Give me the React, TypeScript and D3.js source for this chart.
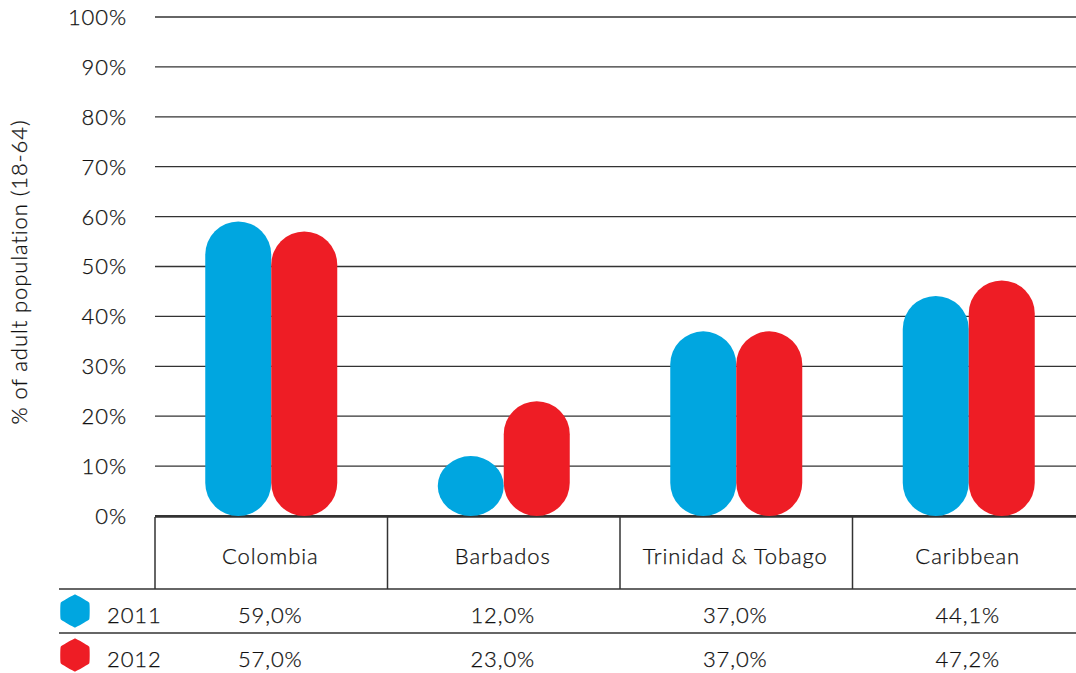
import React from "react";
import * as d3 from "d3";

const categories = ["Colombia", "Barbados", "Trinidad & Tobago", "Caribbean"];
const series = ["2011", "2012"];
const values2011 = [59.0, 12.0, 37.0, 44.1];
const values2012 = [57.0, 23.0, 37.0, 47.2];
const yTicks = [0, 10, 20, 30, 40, 50, 60, 70, 80, 90, 100];
const colors = ["#00a6e0", "#ee1d25"];

const W = 1076;
const H = 673;
const FONT = "Lato, 'Open Sans', sans-serif";
const FS = 22;
const LS = 0.9;

export default function App() {
  const y = d3.scaleLinear().domain([0, 100]).range([516, 17]);
  const x = d3.scaleBand().domain(categories).range([155, 1085]).paddingInner(0).paddingOuter(0);
  const barW = 66;
  const data = [values2011, values2012];
  const fmt = (v: number) => v.toFixed(1).replace(".", ",") + "%";
  const rowY = [611, 655];
  const hex = (cx: number, cy: number, r: number) => {
    const pts = d3.range(6).map((i) => {
      const a = (Math.PI / 3) * i - Math.PI / 2;
      return [cx + r * Math.cos(a), cy + r * Math.sin(a)] as [number, number];
    });
    return d3.line().curve(d3.curveCardinalClosed.tension(0.75))(pts) as string;
  };
  const tp = { fontFamily: FONT, fontWeight: 300, fontSize: FS, fill: "#111", letterSpacing: LS, stroke: "#111", strokeWidth: 0.25 };
  return (
    <svg width={W} height={H} style={{ display: "block", position: "absolute", left: 0, top: 0 }}>
      <rect width={W} height={H} fill="#fff" />
      {yTicks.map((t) => (
        <g key={t}>
          <line x1={155} x2={W} y1={y(t)} y2={y(t)} stroke="#333" strokeWidth={t === 0 ? 2 : 1.3} />
          <text x={127} y={y(t)} dy="0.36em" textAnchor="end" {...tp}>
            {t}%
          </text>
        </g>
      ))}
      <text transform={`translate(27,${272}) rotate(-90)`} textAnchor="middle" {...tp}>
        % of adult population (18-64)
      </text>
      {categories.map((c, i) => {
        const cx = (x(c) as number) + x.bandwidth() / 2;
        return (
          <g key={c}>
            {data.map((vals, s) => (
              <rect
                key={s}
                x={s === 0 ? cx - barW : cx}
                y={y(vals[i])}
                width={barW}
                height={y(0) - y(vals[i])}
                rx={barW / 2}
                fill={colors[s]}
              />
            ))}
          </g>
        );
      })}
      {/* table */}
      <line x1={155} x2={W} y1={517} y2={517} stroke="#333" strokeWidth={1.5} />
      {[155, ...categories.slice(1).map((c) => x(c) as number)].map((lx, i) => (
        <line key={i} x1={lx} x2={lx} y1={517} y2={589} stroke="#333" strokeWidth={1.5} />
      ))}
      <line x1={59} x2={W} y1={589} y2={589} stroke="#333" strokeWidth={1.5} />
      <line x1={59} x2={W} y1={633} y2={633} stroke="#333" strokeWidth={1.5} />
      {categories.map((c) => (
        <text key={c} x={(x(c) as number) + x.bandwidth() / 2 - 1} y={556} dy="0.36em" textAnchor="middle" {...tp}>
          {c}
        </text>
      ))}
      {series.map((s, si) => (
        <g key={s}>
          <path d={hex(75, rowY[si], 16.5)} fill={colors[si]} />
          <text x={107} y={rowY[si] + 4} dy="0.36em" {...tp}>
            {s}
          </text>
          {categories.map((c, i) => (
            <text key={c} x={(x(c) as number) + x.bandwidth() / 2 - 1} y={rowY[si] + 4} dy="0.36em" textAnchor="middle" {...tp}>
              {fmt(data[si][i])}
            </text>
          ))}
        </g>
      ))}
    </svg>
  );
}
